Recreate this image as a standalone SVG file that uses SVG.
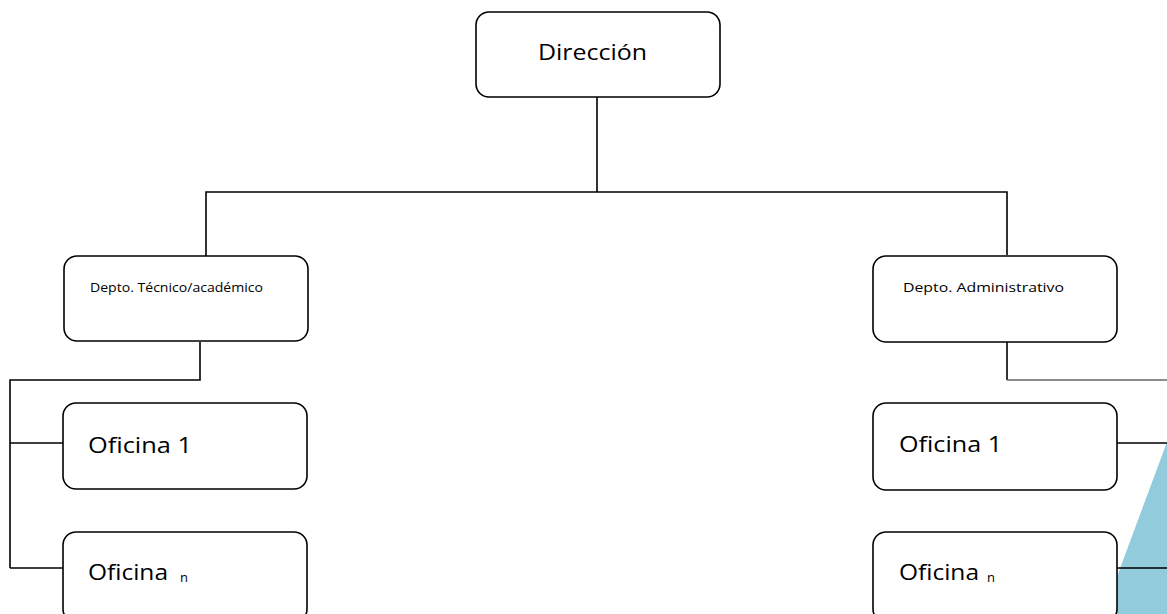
<svg xmlns="http://www.w3.org/2000/svg" width="1167" height="614" viewBox="0 0 1167 614">
<style>
.box{fill:#fff;stroke:#000;stroke-width:1.6}
.ln{fill:none;stroke:#000;stroke-width:1.6}
.big{font-family:"Open Sans","Liberation Sans",sans-serif;font-size:22px;fill:#000}
.small{font-family:"Open Sans","Liberation Sans",sans-serif;font-size:12px;fill:#000}
.sub{font-size:13px}
</style>
<rect width="1167" height="614" fill="#fff"/>
<polygon points="1167,442 1112,590 1112,614 1167,614" fill="#92CBDC"/>
<g id="connectors">
<path class="ln" d="M597,97 V192 M206,256 V192 H1007 V255"/>
<path class="ln" d="M200,342 V380 H10 V568 M10,443 H63 M10,568 H63"/>
<path class="ln" d="M1007,342 V380"/>
<path fill="none" stroke="#666" stroke-width="1.3" d="M1007,380 H1167"/>
<path class="ln" d="M1117,443 H1167 M1117,568 H1167"/>
</g>
<g id="direccion">
<rect class="box" x="476" y="12" width="244" height="85" rx="13"/>
<text class="big" x="538" y="60" textLength="109" lengthAdjust="spacingAndGlyphs">Dirección</text>
</g>
<g id="depto-tecnico">
<rect class="box" x="64" y="256" width="244" height="85" rx="13"/>
<text class="small" x="90" y="292" textLength="173" lengthAdjust="spacingAndGlyphs">Depto. Técnico/académico</text>
</g>
<g id="depto-admin">
<rect class="box" x="873" y="256" width="244" height="86" rx="13"/>
<text class="small" x="903" y="292" textLength="161" lengthAdjust="spacingAndGlyphs">Depto. Administrativo</text>
</g>
<g id="oficina1-left">
<rect class="box" x="63" y="403" width="244" height="86" rx="13"/>
<text class="big" x="88" y="453" textLength="104" lengthAdjust="spacingAndGlyphs">Oficina 1</text>
</g>
<g id="oficinan-left">
<rect class="box" x="63" y="532" width="244" height="90" rx="13"/>
<text class="big" x="88" y="580"><tspan textLength="80" lengthAdjust="spacingAndGlyphs">Oficina</tspan><tspan class="sub" x="180" dy="2">n</tspan></text>
</g>
<g id="oficina1-right">
<rect class="box" x="873" y="403" width="244" height="87" rx="13"/>
<text class="big" x="899" y="452" textLength="103" lengthAdjust="spacingAndGlyphs">Oficina 1</text>
</g>
<g id="oficinan-right">
<rect class="box" x="873" y="532" width="244" height="90" rx="13"/>
<text class="big" x="899" y="580"><tspan textLength="80" lengthAdjust="spacingAndGlyphs">Oficina</tspan><tspan class="sub" x="987" dy="2">n</tspan></text>
</g>
</svg>
